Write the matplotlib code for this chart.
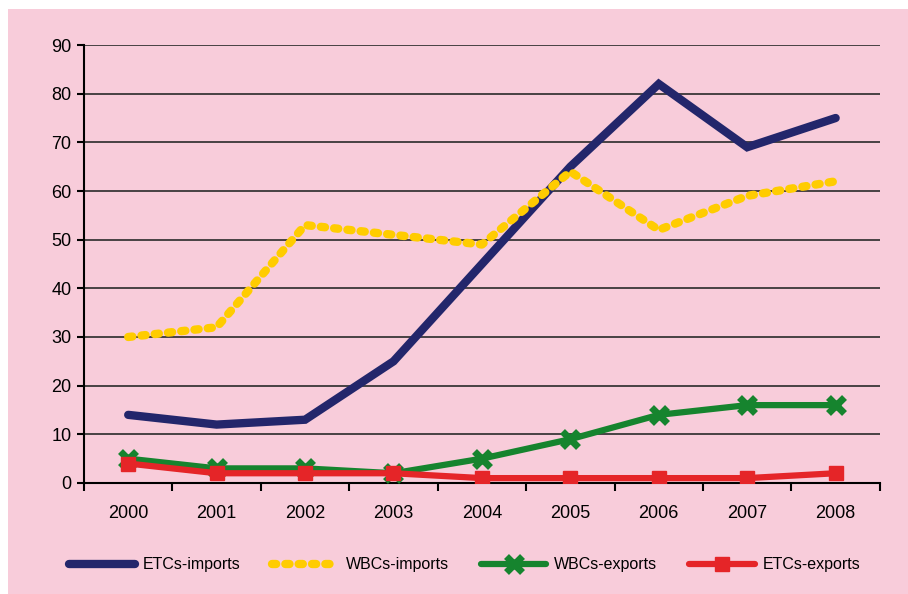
import numpy as np
import matplotlib
matplotlib.use('Agg')
import matplotlib.pyplot as plt
from matplotlib.patches import Rectangle

years = ['2000', '2001', '2002', '2003', '2004', '2005', '2006', '2007', '2008']
etc_imports = [14, 12, 13, 25, 45, 65, 82, 69, 75]
wbc_imports = [30, 32, 53, 51, 49, 64, 52, 59, 62]
wbc_exports = [5, 3, 3, 2, 5, 9, 14, 16, 16]
etc_exports = [4, 2, 2, 2, 1, 1, 1, 1, 2]

plt.rcParams['font.family'] = ['Liberation Sans', 'DejaVu Sans']

pink = '#F8CCDA'
fig = plt.figure(figsize=(9.08, 5.94), dpi=100, facecolor='white')
fig.patches.append(Rectangle((8 / 908, 0), 1, 1 - 9 / 594, transform=fig.transFigure,
                             facecolor=pink, edgecolor='none', zorder=-10))
ax = fig.add_axes([0.0925, 0.1869, 0.8765, 0.7373])
ax.set_facecolor(pink)

x = np.arange(len(years))
ax.plot(x, etc_imports, color='#23266B', lw=6, solid_capstyle='round',
        solid_joinstyle='miter', label='ETCs-imports', zorder=3)
ax.plot(x, wbc_imports, color='#FFCC00', lw=6, linestyle=(0, (0.5, 1.1)),
        dash_capstyle='round', label='WBCs-imports', zorder=3)
ax.plot(x, wbc_exports, color='#16842E', lw=4.5, marker='x', ms=11, mew=5,
        solid_capstyle='round', label='WBCs-exports', zorder=4)
ax.plot(x, etc_exports, color='#E52528', lw=4.5, marker='s', ms=10,
        solid_capstyle='round', label='ETCs-exports', zorder=5)

ax.set_xlim(-0.5, len(years) - 0.5)
ax.set_ylim(0, 90)
ax.set_yticks(np.arange(0, 91, 10))
ax.set_xticks(x)
ax.set_xticklabels(years)
ax.set_xticks(np.arange(-0.5, len(years), 1), minor=True)
ax.tick_params(axis='x', which='major', length=0, pad=16, labelsize=13)
ax.tick_params(axis='x', which='minor', length=6, width=1.5, direction='out')
ax.tick_params(axis='y', length=5, width=1.5, direction='out', labelsize=13, pad=4)
ax.yaxis.grid(True, color='#2a2a2a', lw=1.2)
ax.set_axisbelow(True)
for s in ['top', 'right']:
    ax.spines[s].set_visible(False)
for s in ['left', 'bottom']:
    ax.spines[s].set_linewidth(1.5)
    ax.spines[s].set_color('black')

fig.legend(loc='lower center', bbox_to_anchor=(0.512, 0.012), ncol=4, frameon=False,
           fontsize=11.5, handlelength=4.1, handletextpad=0.5, columnspacing=2.0)

fig.savefig('out.png', dpi=100, facecolor=fig.get_facecolor())
